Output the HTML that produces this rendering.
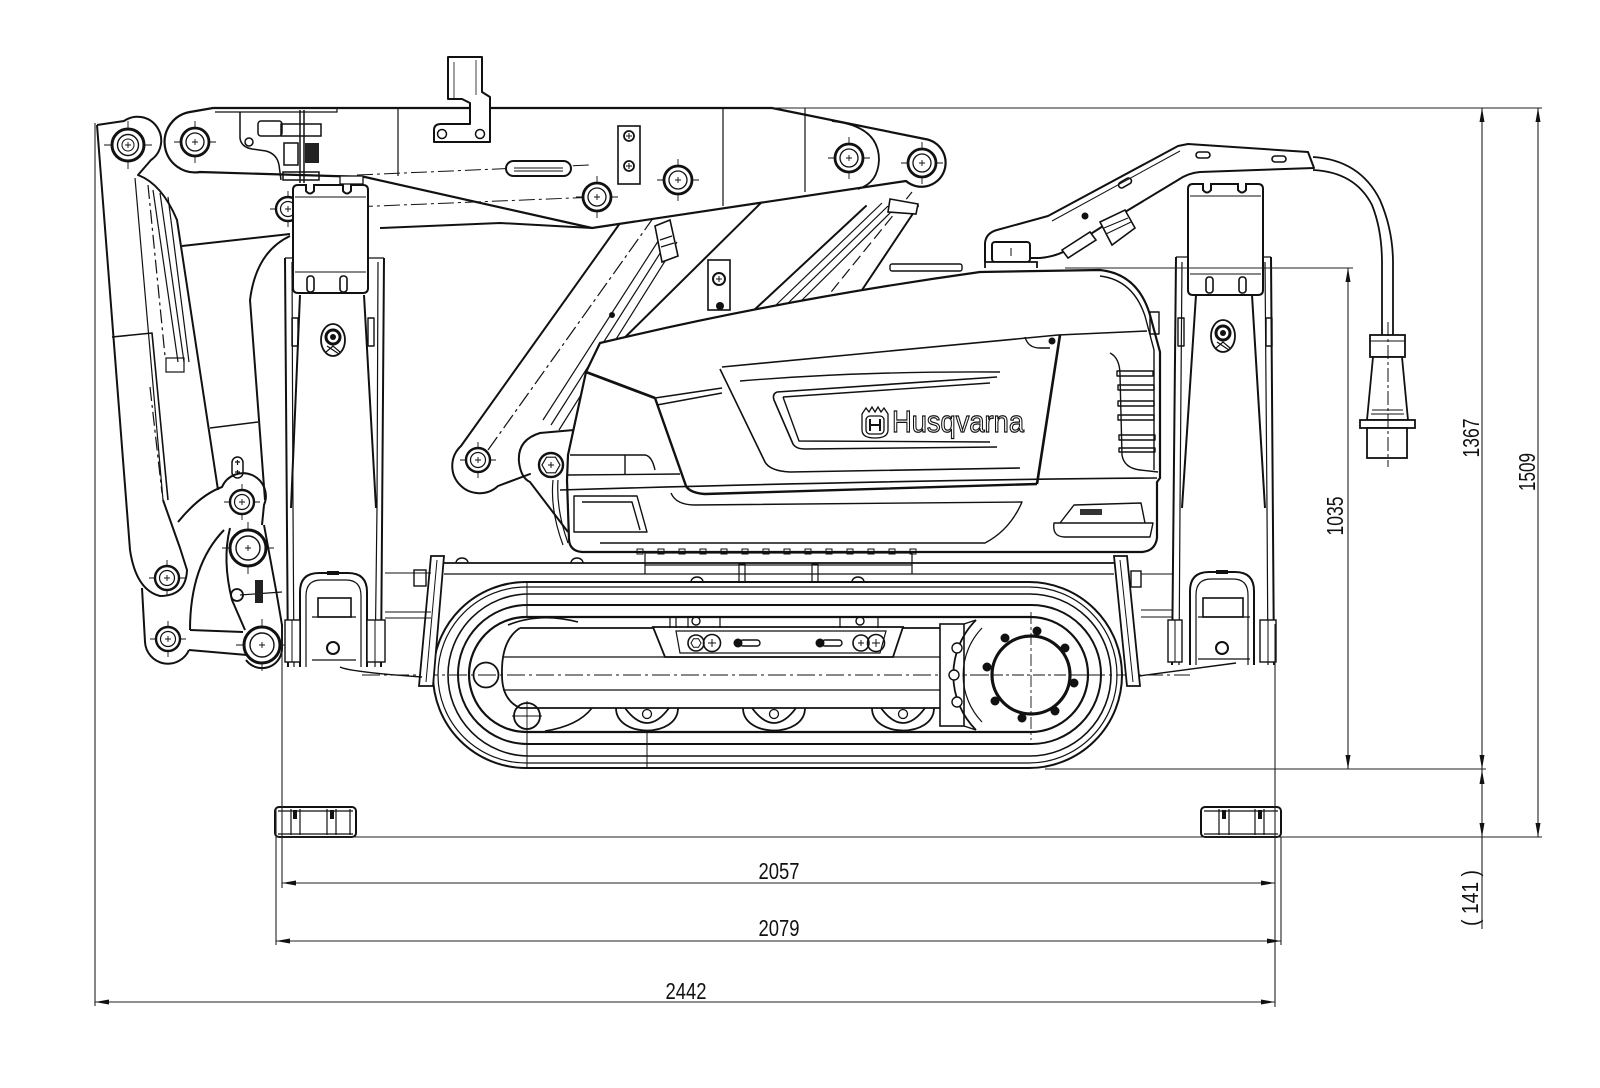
<!DOCTYPE html>
<html><head><meta charset="utf-8">
<style>html,body{margin:0;padding:0;background:#fff}svg{display:block}</style>
</head><body>
<svg xmlns="http://www.w3.org/2000/svg" xmlns:xlink="http://www.w3.org/1999/xlink" width="1600" height="1088" viewBox="0 0 1600 1088">
<defs>
 <g id="pA"><circle r="16" fill="#fff" stroke="#111" stroke-width="3"/><circle r="10.5" fill="none" stroke="#111" stroke-width="1.4"/><circle r="6" fill="none" stroke="#111" stroke-width="1"/><path d="M-3,0h6M0,-3v6M-24,0h8M16,0h8M0,-24v8M0,16v8" stroke="#111" stroke-width="0.9"/></g>
 <g id="pB"><circle r="14" fill="#fff" stroke="#111" stroke-width="2.8"/><circle r="9" fill="none" stroke="#111" stroke-width="1.3"/><path d="M-3,0h6M0,-3v6M-21,0h7M14,0h7M0,-21v7M0,14v7" stroke="#111" stroke-width="0.9"/></g>
 <g id="pC"><circle r="12" fill="#fff" stroke="#111" stroke-width="2.4"/><circle r="7.5" fill="none" stroke="#111" stroke-width="1.2"/><path d="M-3,0h6M0,-3v6M-18,0h6M12,0h6M0,-18v6M0,12v6" stroke="#111" stroke-width="0.9"/></g>
 <g id="pD"><circle r="18" fill="#fff" stroke="#111" stroke-width="3"/><circle r="12" fill="none" stroke="#111" stroke-width="1.4"/><path d="M-3,0h6M0,-3v6M-26,0h8M18,0h8M0,-26v8M0,18v8" stroke="#111" stroke-width="0.9"/></g>
 <g id="oval"><ellipse rx="12" ry="16" fill="#fff" stroke="#111" stroke-width="1.8"/><circle cy="-3" r="7" fill="none" stroke="#111" stroke-width="3"/><circle cy="-3" r="3" fill="#111"/><path d="M-7,12 L0,6 L7,12 M-6,6 L6,14" stroke="#111" stroke-width="1.2" fill="none"/></g>
</defs>
<rect width="1600" height="1088" fill="#fff"/>

<!-- ARMS (behind) -->
<g fill="none" stroke="#111" stroke-width="2" stroke-linecap="round" stroke-linejoin="round">
 <path d="M461,446 L628,212"/>
 <path d="M772,192 L600,362"/>
 <path d="M461,446 A24,24 0 0 0 498,486 L530,474"/>
 <path d="M752,312 L866,206"/>
 <path d="M862,290 L918,206"/>
</g>
<g fill="none" stroke="#111" stroke-width="1.2">
 <path d="M543,420 L664,232 M551,425 L671,236 M559,430 L677,242"/>
 <path d="M776,305 L882,203 M782,309 L888,206 M796,306 L893,210"/>
 <path d="M488,450 L676,186" stroke-dasharray="16 4 3 4"/>
 <path d="M810,318 L912,192" stroke-dasharray="12 5"/>
</g>
<polygon points="655,226 670,220 678,256 662,262" fill="#fff" stroke="#111" stroke-width="1.6"/>
<path d="M660,240 L672,236 M661,247 L674,243" stroke="#111" stroke-width="1.2"/>
<polygon points="890,199 918,204 916,214 888,212" fill="#fff" stroke="#111" stroke-width="1.6"/>
<rect x="708" y="260" width="22" height="50" fill="#fff" stroke="#111" stroke-width="1.6"/>
<circle cx="719" cy="279" r="6" fill="none" stroke="#111" stroke-width="2"/>
<path d="M716,279h6M719,276v6" stroke="#111"/>
<circle cx="720" cy="306" r="4" fill="#111"/>
<circle cx="612" cy="315" r="3" fill="#111"/>
<!-- engine mount lobe -->
<path d="M574,430 L540,433 Q517,440 519,462 Q521,478 530,482 L568,532" fill="none" stroke="#111" stroke-width="2"/>
<path d="M553,480 Q550,510 563,545 M558,480 Q556,510 568,543" fill="none" stroke="#111" stroke-width="1.2"/>
<circle cx="551" cy="465" r="12" fill="#fff" stroke="#111" stroke-width="2.4"/>
<polygon points="560,465 555.5,472.8 546.5,472.8 542,465 546.5,457.2 555.5,457.2" fill="none" stroke="#111" stroke-width="1.2"/>
<path d="M548,465h6M551,462v6" stroke="#111"/>
<use xlink:href="#pC" x="478" y="460"/>

<!-- BOOM -->
<path d="M213,108 L772,108 L925,139 A24,24 0 1,1 906,181 L592,228 L365,177 L200,172 A30,30 0 0,1 190,112 Z" fill="#fff" stroke="#111" stroke-width="2.2" stroke-linejoin="round"/>
<g fill="none" stroke="#111" stroke-width="1.2">
 <path d="M215,112 L337,112 L337,108"/>
 <path d="M398,108 L398,176 M723,108 L723,206 M805,108 L805,192"/>
 <path d="M832,121 Q879,126 879,160 Q878,183 858,189" stroke-width="1.8"/>
 <path d="M303,209 L597,197" stroke-dasharray="16 4 3 4" stroke-width="1"/>
 <path d="M357,175 L590,165" stroke-dasharray="16 4 3 4" stroke-width="1"/>
</g>
<rect x="506" y="161" width="65" height="15" rx="7.5" fill="#fff" stroke="#111" stroke-width="2"/>
<path d="M514,168 L563,168 M514,171 L563,171" stroke="#111" stroke-width="1"/>
<rect x="618" y="126" width="22" height="58" fill="#fff" stroke="#111" stroke-width="1.6"/>
<circle cx="629" cy="136" r="5" fill="none" stroke="#111" stroke-width="1.8"/>
<circle cx="629" cy="166" r="5" fill="none" stroke="#111" stroke-width="1.8"/>
<path d="M626,136h6M629,133v6M626,166h6M629,163v6" stroke="#111"/>
<use xlink:href="#pB" x="597" y="197"/>
<use xlink:href="#pB" x="678" y="180"/>
<use xlink:href="#pB" x="849" y="158"/>
<use xlink:href="#pB" x="922" y="163"/>
<!-- hook bracket -->
<path d="M448,57 L482,57 L482,92 L490,97 L490,142 L434,142 L434,130 Q434,124 441,124 L470,124 L470,103 L462,99 L448,99 Z" fill="#fff" stroke="#111" stroke-width="2" stroke-linejoin="round"/>
<circle cx="442" cy="134" r="4.5" fill="none" stroke="#111" stroke-width="1.5"/>
<circle cx="480" cy="134" r="4.5" fill="none" stroke="#111" stroke-width="1.5"/>
<path d="M454,99 L454,62 M476,60 L476,95" stroke="#111" stroke-width="0.8"/>
<!-- hydraulic block -->
<g fill="none" stroke="#111" stroke-width="1.5">
 <path d="M240,112 L240,138 Q241,147 252,149 L266,151 Q277,154 279,165 L281,180"/>
 <rect x="258" y="121" width="24" height="15" rx="3"/>
 <circle cx="249" cy="142" r="4"/>
 <rect x="281" y="124" width="40" height="12"/>
 <rect x="284" y="143" width="14" height="22"/>
 <rect x="283" y="172" width="36" height="8"/>
 <path d="M300,110 L300,183 M304,110 L304,183"/>
</g>
<rect x="305" y="143" width="14" height="20" fill="#222"/>

<!-- SECOND BOOM / BACK ARM -->
<g fill="none" stroke="#111" stroke-width="2" stroke-linejoin="round">
 <path d="M182,246 L290,234"/>
 <path d="M380,228 L500,223 L592,228"/>
 <path d="M290,236 Q256,252 250,300 L265,500"/>
 <path d="M210,428 L258,422" stroke-width="1.4"/>
</g>

<!-- COLUMN -->
<g fill="none" stroke="#111" stroke-width="2" stroke-linejoin="round">
 <path d="M97,125 L124,121 A23,23 0 0 1 151,160 L138,175 Q162,184 177,220 L218,490"/>
 <path d="M97,125 L130,550"/>
 <path d="M112,337 L152,333 L168,500" stroke-width="1.6"/>
 <path d="M130,550 Q136,590 160,596 Q186,596 187,570 L180,548 L163,500"/>
 <path d="M142,588 L145,642 A23,23 0 0 0 189,650"/>
 <path d="M189,650 L247,655 M190,630 L243,632"/>
 <path d="M190,630 Q190,565 224,530"/>
 <path d="M178,522 Q200,495 222,487 A22,22 0 0 1 264,505 L262,525"/>
 <path d="M230,528 Q222,560 232,600 L245,630"/>
 <path d="M264,525 L276,590 L282,625 L282,650 A20,20 0 0 1 246,660"/>
</g>
<g fill="none" stroke="#111" stroke-width="1.2">
 <path d="M135,178 L163,500"/>
 <path d="M153,190 L178,362 M160,193 L184,362 M168,197 L189,362"/>
 <rect x="166" y="358" width="18" height="14"/>
 <path d="M148,185 L165,356 M150,387 L162,493" stroke-dasharray="14 4 3 4"/>
 <rect x="232" y="457" width="11" height="21" rx="5.5" stroke-width="1.5"/>
 <path d="M235,462h5M237.5,460v5M235,472h5M237.5,470v5"/>
 <circle cx="237" cy="595" r="6" stroke-width="1.8"/>
 <path d="M240,595 L282,592"/>
</g>
<rect x="255" y="580" width="8" height="23" fill="#222"/>
<use xlink:href="#pA" x="128" y="145"/>
<use xlink:href="#pB" x="195" y="142"/>
<use xlink:href="#pC" x="288" y="209"/>
<use xlink:href="#pC" x="167" y="578"/>
<use xlink:href="#pC" x="168" y="639"/>
<use xlink:href="#pC" x="242" y="502"/>
<use xlink:href="#pD" x="248" y="548"/>
<use xlink:href="#pD" x="262" y="645"/>

<!-- ENGINE -->
<path d="M600,343 Q780,300 980,272 L1100,270 Q1138,274 1150,315 L1160,352 L1160,478 L1157,482 L1157,538 Q1155,552 1140,552 L582,552 Q570,551 569,540 L567,480 L568,455 L586,372 Z" fill="#fff" stroke="#111" stroke-width="2.2" stroke-linejoin="round"/>
<g fill="none" stroke="#111" stroke-width="1.4" stroke-linejoin="round">
 <path d="M1100,276 Q1133,280 1145,316 L1154,350 L1154,470"/>
 <rect x="890" y="264" width="72" height="7" rx="2"/>
 <path d="M722,367 L1058,335 L1147,331" stroke-width="1.6"/>
 <path d="M740,381 Q860,371 1000,372"/>
 <path d="M720,369 L765,462 Q770,471 790,472 L1020,468" stroke-width="1.6"/>
 <path d="M777,392 L997,377 M777,392 Q772,394 774,400 L793,444 Q796,449 805,449 L997,447" stroke-width="1.6"/>
 <path d="M783,397 L990,383 M783,397 L799,441 L990,442"/>
 <path d="M655,398 L722,388 M657,405 L722,393"/>
 <path d="M586,372 L568,455"/>
 <path d="M570,455 L645,455 Q652,456 655,470 M625,455 L625,475 M568,475 L680,474"/>
 <path d="M560,490 Q900,480 1157,478" stroke-width="1.6"/>
 <path d="M671,493 Q676,505 695,505 L1022,502 Q1010,530 985,543 L600,543"/>
 <path d="M574,496 L637,496 L647,532 L574,532 Z M582,502 L632,502 L640,530"/>
 <path d="M1054,523 Q1052,537 1065,537 L1150,537 L1153,523 Z M1060,523 L1074,505 L1141,503 L1145,523"/>
 <path d="M1110,353 Q1120,358 1120,375 L1122,455 Q1124,468 1140,470 L1158,472"/>
 <path d="M1117,371h36v5h-36z M1118,385h36v5h-36z M1118,401h36v5h-36z M1118,415h36v5h-36z M1119,435h36v5h-36z M1119,448h36v4h-36z"/>
 <rect x="1150" y="312" width="9" height="22"/>
 <path d="M1025,337 Q1028,348 1040,348 L1050,348"/>
</g>
<path d="M1060,335 L1037,484" stroke="#111" stroke-width="2.6" fill="none"/>
<path d="M655,398 L686,486 Q690,493 705,494 L1037,484" stroke="#111" stroke-width="2.4" fill="none"/>
<path d="M586,372 L655,398" stroke="#111" stroke-width="2.8" fill="none"/>
<rect x="1080" y="509" width="22" height="6" fill="#333"/>
<circle cx="1052" cy="341" r="3.5" fill="#111"/>
<!-- logo -->
<g stroke="#111" fill="#fff" stroke-width="1.3">
 <path d="M862,414 L866,408 L869,412 L872,407 L875,412 L878,407 L881,412 L884,408 L888,414 L888,430 Q888,438 875,438 Q862,438 862,430 Z"/>
 <rect x="866" y="416" width="18" height="18" rx="4"/>
 <path d="M870,419 V431 M880,419 V431 M870,425 H880" stroke-width="2" fill="none"/>
</g>
<text x="892" y="432" font-family="'Liberation Sans', sans-serif" font-size="31" textLength="132" lengthAdjust="spacingAndGlyphs" fill="#fff" stroke="#111" stroke-width="1.2">Husqvarna</text>

<!-- TOP CAP + HANDLE + CABLE -->
<rect x="992" y="242" width="38" height="20" rx="3" fill="#fff" stroke="#111" stroke-width="2"/>
<path d="M985,268 L985,262 L1037,262 L1037,268" fill="#fff" stroke="#111" stroke-width="1.8"/>
<path d="M1011,248 V256" stroke="#111"/>
<path d="M985,262 L985,243 Q986,233 997,230 L1048,216 L1178,146 L1188,144 L1308,152 L1314,168 L1200,172 Q1188,173 1178,180 L1125,212 L1075,244 Q1062,256 1040,258 L1030,258" fill="none" stroke="#111" stroke-width="2" stroke-linejoin="round"/>
<path d="M1052,221 L1180,151" stroke="#111" stroke-width="1" fill="none"/>
<rect x="1196" y="152" width="14" height="6" rx="3" fill="none" stroke="#111" stroke-width="1.6"/>
<rect x="1272" y="156" width="14" height="6" rx="3" fill="none" stroke="#111" stroke-width="1.6"/>
<rect x="1118" y="180" width="14" height="6" rx="3" fill="none" stroke="#111" stroke-width="1.6" transform="rotate(-30 1125 183)"/>
<polygon points="1062,250 1090,232 1096,240 1068,258" fill="#fff" stroke="#111" stroke-width="1.6"/>
<polygon points="1100,222 1125,210 1135,228 1112,245" fill="#fff" stroke="#111" stroke-width="1.6"/>
<path d="M1104,228 L1128,218 M1106,234 L1131,222" stroke="#111" fill="none"/>
<circle cx="1085" cy="216" r="3.5" fill="#111"/>
<path d="M1313,157 Q1360,160 1380,200 Q1393,230 1393,263 L1393,335" fill="none" stroke="#111" stroke-width="1.8"/>
<path d="M1313,170 Q1355,172 1372,205 Q1382,230 1382,263 L1382,335" fill="none" stroke="#111" stroke-width="1.8"/>
<g fill="#fff" stroke="#111" stroke-width="1.8">
 <rect x="1370" y="335" width="35" height="22"/>
 <polygon points="1373,357 1402,357 1408,420 1367,420"/>
 <rect x="1360" y="420" width="55" height="8"/>
 <rect x="1367" y="428" width="40" height="30"/>
</g>
<path d="M1370,341 H1405 M1372,410 H1403 M1371,414 H1404" stroke="#111" stroke-width="1" fill="none"/>
<path d="M1388,322 V467" stroke="#111" stroke-width="1" stroke-dasharray="14 3 3 3"/>

<!-- TRACK -->
<g fill="none" stroke="#111">
 <rect x="433" y="582" width="689" height="186" rx="93" stroke-width="2"/>
 <rect x="438" y="587" width="679" height="176" rx="88" stroke-width="1.2"/>
 <rect x="448" y="594" width="663" height="162" rx="81" stroke-width="1.6"/>
 <rect x="458" y="605" width="643" height="139" rx="69.5" stroke-width="2"/>
 <rect x="469" y="617" width="619" height="115" rx="57.5" stroke-width="2.2"/>
 <path d="M527,582 V617 M527,732 V768 M647,732 V768" stroke-width="1"/>
 <path d="M520,628 H940 M520,708 H940" stroke-width="1.8"/>
 <path d="M503,657 H940 M503,690 H940" stroke-width="1.3"/>
 <path d="M520,628 Q501,640 502,675 Q502,700 520,708" stroke-width="1.8"/>
 <path d="M508,625 Q540,612 578,622" stroke-width="1.6"/>
 <path d="M545,731 Q578,726 592,708" stroke-width="1.6"/>
 <circle cx="486" cy="675" r="12.5" stroke-width="1.8"/>
 <circle cx="527" cy="716" r="13" stroke-width="1.8"/>
 <path d="M512,716h30M527,701v30" stroke-width="0.9"/>
 <path d="M616,708 C616,738 678,738 678,708 M625,708 Q647,738 669,708" stroke-width="1.8"/>
 <path d="M743,708 C743,738 805,738 805,708 M752,708 Q774,738 796,708" stroke-width="1.8"/>
 <path d="M872,708 C872,738 934,738 934,708 M881,708 Q903,738 925,708" stroke-width="1.8"/>
 <circle cx="647" cy="714" r="4.5" stroke-width="1.3"/>
 <circle cx="774" cy="714" r="4.5" stroke-width="1.3"/>
 <circle cx="903" cy="714" r="4.5" stroke-width="1.3"/>
 <path d="M362,675 H1190" stroke-width="0.9" stroke-dasharray="18 4 3 4"/>
</g>
<!-- tension plate -->
<polygon points="653,627 903,627 893,657 665,657" fill="#fff" stroke="#111" stroke-width="1.8"/>
<path d="M676,631 L886,631 L880,653 L680,653 Z" fill="none" stroke="#111" stroke-width="1.2"/>
<circle cx="696" cy="643" r="8" fill="none" stroke="#111" stroke-width="1.6"/>
<polygon points="701,643 698.5,647.3 693.5,647.3 691,643 693.5,638.7 698.5,638.7" fill="none" stroke="#111"/>
<circle cx="712" cy="643" r="8.5" fill="none" stroke="#111" stroke-width="1.6"/>
<path d="M708,643h8M712,639v8" stroke="#111"/>
<circle cx="738" cy="643" r="4.5" fill="#111"/>
<rect x="740" y="640" width="20" height="6" rx="3" fill="none" stroke="#111" stroke-width="1.4"/>
<circle cx="820" cy="643" r="4.5" fill="#111"/>
<rect x="822" y="640" width="20" height="6" rx="3" fill="none" stroke="#111" stroke-width="1.4"/>
<circle cx="861" cy="643" r="8" fill="none" stroke="#111" stroke-width="1.6"/>
<circle cx="876" cy="643" r="8.5" fill="none" stroke="#111" stroke-width="1.6"/>
<path d="M872,643h8M876,639v8M858,643h6M861,640v6" stroke="#111"/>
<circle cx="696" cy="621" r="4" fill="none" stroke="#111" stroke-width="1.4"/>
<circle cx="860" cy="621" r="4" fill="none" stroke="#111" stroke-width="1.4"/>
<path d="M670,617 V628 M676,617 V628 M688,617 V628 M720,617 V628 M840,617 V628 M878,617 V628" stroke="#111" stroke-width="1.2"/>
<!-- sprocket -->
<rect x="940" y="624" width="24" height="102" fill="#fff" stroke="#111" stroke-width="1.6"/>
<path d="M976,620 A78,78 0 0 0 976,730" fill="none" stroke="#111" stroke-width="1.8"/>
<path d="M982,628 A68,68 0 0 0 982,722" fill="none" stroke="#111" stroke-width="1.2"/>
<path d="M964,624 L976,620 M964,726 L976,730" stroke="#111" stroke-width="1.4"/>
<circle cx="957" cy="648" r="5" fill="#fff" stroke="#111" stroke-width="1.4"/>
<circle cx="957" cy="702" r="5" fill="#fff" stroke="#111" stroke-width="1.4"/>
<circle cx="954" cy="675" r="5" fill="#fff" stroke="#111" stroke-width="1.4"/>
<circle cx="1031" cy="675" r="39" fill="#fff" stroke="#111" stroke-width="3.2"/>
<g fill="#111">
 <circle cx="1037" cy="631" r="4.5"/><circle cx="1065" cy="648" r="4.5"/><circle cx="1074" cy="683" r="4.5"/><circle cx="1055" cy="711" r="4.5"/>
 <circle cx="1022" cy="718" r="4.5"/><circle cx="995" cy="701" r="4.5"/><circle cx="987" cy="667" r="4.5"/><circle cx="1005" cy="638" r="4.5"/>
</g>
<path d="M1031,612 V740 M970,675 H1090" stroke="#111" stroke-width="0.9" stroke-dasharray="12 3 3 3"/>
<!-- chassis -->
<g fill="none" stroke="#111">
 <path d="M444,563 H1114" stroke-width="1.8"/>
 <path d="M444,574 H1114" stroke-width="1.2"/>
 <path d="M456,563 a6,5 0 0 1 12,0 M571,563 a6,5 0 0 1 12,0 M691,582 a6,5 0 0 1 12,0 M852,582 a6,5 0 0 1 12,0" stroke-width="1.4"/>
 <rect x="739" y="564" width="6" height="18" stroke-width="1.2"/>
 <rect x="812" y="564" width="6" height="18" stroke-width="1.2"/>
 <rect x="645" y="553" width="267" height="12" stroke-width="1.2"/>
 <path d="M645,565 V574 M912,565 V574" stroke-width="1.2"/>
 <path d="M637,549h6v5h-6z M658,549h6v5h-6z M679,549h6v5h-6z M700,549h6v5h-6z M721,549h6v5h-6z M742,549h6v5h-6z M763,549h6v5h-6z M784,549h6v5h-6z M805,549h6v5h-6z M826,549h6v5h-6z M847,549h6v5h-6z M868,549h6v5h-6z M889,549h6v5h-6z M910,549h6v5h-6z" stroke-width="1"/>
</g>
<polygon points="431,556 444,556 433,686 419,686" fill="#fff" stroke="#111" stroke-width="1.8"/>
<path d="M437,560 L426,682" stroke="#111" stroke-width="1"/>
<rect x="414" y="570" width="12" height="16" fill="#fff" stroke="#111" stroke-width="1.4"/>
<polygon points="1114,556 1127,556 1140,686 1127,686" fill="#fff" stroke="#111" stroke-width="1.8"/>
<path d="M1120,560 L1133,682" stroke="#111" stroke-width="1"/>
<rect x="1131" y="571" width="10" height="16" fill="#fff" stroke="#111" stroke-width="1.4"/>

<!-- LEFT LEG -->
<polygon points="285,258 385,258 385,667 285,667" fill="#fff"/>
<g fill="none" stroke="#111" stroke-linejoin="round">
 <path d="M285,258 L288,667 M300,295 L291,508 M384,258 L381,667 M364,295 L376,508" stroke-width="2"/>
 <path d="M292,262 L293,508 L294,667 M378,262 L377,508 L375,667 M285,258 L300,258 M368,258 L384,258" stroke-width="1.2"/>
 <rect x="292" y="318" width="6" height="28" stroke-width="1.4"/>
 <rect x="368" y="318" width="6" height="28" stroke-width="1.4"/>
</g>
<use xlink:href="#oval" x="333" y="340"/>
<path d="M293,190 Q293,185 298,185 L306,185 L306,191 Q310,196 314,191 L314,185 L343,185 L343,191 Q347,196 351,191 L351,185 L363,185 Q368,185 368,190 L368,288 Q368,293 363,293 L298,293 Q293,293 293,288 Z" fill="#fff" stroke="#111" stroke-width="2"/>
<path d="M295,197 L366,197 M295,272 L366,272" stroke="#111" stroke-width="1.1"/>
<rect x="307" y="276" width="7" height="16" rx="3" fill="none" stroke="#111" stroke-width="1.6"/>
<rect x="340" y="276" width="7" height="16" rx="3" fill="none" stroke="#111" stroke-width="1.6"/>
<rect x="340" y="176" width="23" height="8" fill="#fff" stroke="#111" stroke-width="1.3"/>
<!-- left foot -->
<path d="M300,667 L300,592 Q300,573 319,573 L348,573 Q367,573 367,592 L367,667" fill="#fff" stroke="#111" stroke-width="2"/>
<path d="M306,667 L306,596 Q306,580 321,580 L346,580 Q361,580 361,596 L361,667" fill="none" stroke="#111" stroke-width="1.2"/>
<rect x="318" y="598" width="33" height="19" fill="#fff" stroke="#111" stroke-width="1.6"/>
<path d="M312,617 L356,617 M312,660 L356,660" stroke="#111" stroke-width="1.2"/>
<circle cx="333" cy="648" r="6" fill="#fff" stroke="#111" stroke-width="2"/>
<rect x="327" y="571" width="12" height="4" fill="#111"/>
<rect x="285" y="620" width="15" height="42" fill="#fff" stroke="#111" stroke-width="1.4"/>
<rect x="367" y="620" width="18" height="42" fill="#fff" stroke="#111" stroke-width="1.4"/>
<path d="M292,620 V662 M375,620 V662" stroke="#111" stroke-width="1"/>
<path d="M340,667 Q350,672 422,677" fill="none" stroke="#111" stroke-width="1.4"/>
<path d="M385,573 L431,573 M385,612 L431,612 M385,618 L431,618" stroke="#111" stroke-width="1.1"/>

<!-- RIGHT LEG -->
<polygon points="1172,257 1274,257 1274,665 1172,665" fill="#fff"/>
<g fill="none" stroke="#111" stroke-linejoin="round">
 <path d="M1176,257 L1172,665 M1196,295 L1182,508 M1271,257 L1274,665 M1252,295 L1265,508" stroke-width="2"/>
 <path d="M1182,262 L1180,508 L1179,665 M1265,262 L1267,508 L1268,665 M1176,257 L1192,257 M1258,257 L1271,257" stroke-width="1.2"/>
 <rect x="1178" y="318" width="6" height="28" stroke-width="1.4"/>
 <rect x="1266" y="318" width="6" height="28" stroke-width="1.4"/>
</g>
<use xlink:href="#oval" x="1223" y="336"/>
<path d="M1188,189 Q1188,184 1193,184 L1203,184 L1203,190 Q1207,195 1211,190 L1211,184 L1238,184 L1238,190 Q1242,195 1246,190 L1246,184 L1258,184 Q1263,184 1263,189 L1263,290 Q1263,295 1258,295 L1193,295 Q1188,295 1188,290 Z" fill="#fff" stroke="#111" stroke-width="2"/>
<path d="M1190,196 L1261,196 M1190,274 L1261,274" stroke="#111" stroke-width="1.1"/>
<rect x="1206" y="277" width="7" height="16" rx="3" fill="none" stroke="#111" stroke-width="1.6"/>
<rect x="1239" y="277" width="7" height="16" rx="3" fill="none" stroke="#111" stroke-width="1.6"/>
<!-- right foot -->
<path d="M1190,665 L1190,591 Q1190,572 1209,572 L1235,572 Q1254,572 1254,591 L1254,665" fill="#fff" stroke="#111" stroke-width="2"/>
<path d="M1196,665 L1196,595 Q1196,579 1211,579 L1233,579 Q1248,579 1248,595 L1248,665" fill="none" stroke="#111" stroke-width="1.2"/>
<rect x="1203" y="598" width="40" height="19" fill="#fff" stroke="#111" stroke-width="1.6"/>
<path d="M1198,617 L1250,617 M1198,659 L1250,659" stroke="#111" stroke-width="1.2"/>
<circle cx="1222" cy="648" r="6" fill="#fff" stroke="#111" stroke-width="2"/>
<rect x="1216" y="570" width="12" height="4" fill="#111"/>
<rect x="1168" y="620" width="14" height="42" fill="#fff" stroke="#111" stroke-width="1.4"/>
<rect x="1260" y="620" width="16" height="42" fill="#fff" stroke="#111" stroke-width="1.4"/>
<path d="M1175,620 V662 M1268,620 V662" stroke="#111" stroke-width="1"/>
<path d="M1139,676 L1236,663" fill="none" stroke="#111" stroke-width="1.4"/>
<path d="M1141,574 L1172,574 M1141,610 L1172,610 M1141,617 L1172,617" stroke="#111" stroke-width="1.1"/>

<!-- PADS -->
<g fill="#fff" stroke="#111" stroke-width="2">
 <rect x="275" y="807" width="81" height="30" rx="4"/>
 <rect x="1201" y="807" width="80" height="30" rx="4"/>
</g>
<g fill="none" stroke="#111" stroke-width="1.2">
 <path d="M278,811 H353 M278,834 H353 M291,809 V835 M300,809 V835 M327,809 V835 M336,809 V835 M350,809 V835"/>
 <path d="M1204,811 H1278 M1204,834 H1278 M1219,809 V835 M1229,809 V835 M1255,809 V835 M1264,809 V835"/>
</g>
<g fill="#111">
 <rect x="293" y="810" width="4" height="9"/><rect x="330" y="810" width="4" height="9"/>
 <rect x="1222" y="810" width="4" height="9"/><rect x="1258" y="810" width="4" height="9"/>
</g>

<!-- DIMENSIONS -->
<g fill="none" stroke="#222" stroke-width="1.1">
 <path d="M772,108 H1542"/>
 <path d="M1538,108 V837"/>
 <path d="M1482,108 V929"/>
 <path d="M1348,268 V769"/>
 <path d="M1065,268 H1353"/>
 <path d="M1045,769 H1486"/>
 <path d="M276,837 H1542"/>
 <path d="M282,883 H1275 M276,941 H1281 M95,1002 H1275"/>
 <path d="M95,123 V1006 M282,627 V888 M1275,624 V1007 M276,808 V945 M1281,837 V945"/>
</g>
<g fill="#111">
 <polygon points="1538,108 1535.5,122 1540.5,122"/>
 <polygon points="1538,837 1535.5,823 1540.5,823"/>
 <polygon points="1482,108 1479.5,122 1484.5,122"/>
 <polygon points="1482,769 1479.5,755 1484.5,755"/>
 <polygon points="1482,770 1479.5,784 1484.5,784"/>
 <polygon points="1482,837 1479.5,823 1484.5,823"/>
 <polygon points="1348,268 1345.5,282 1350.5,282"/>
 <polygon points="1348,769 1345.5,755 1350.5,755"/>
 <polygon points="282,883 296,880.5 296,885.5"/>
 <polygon points="1275,883 1261,880.5 1261,885.5"/>
 <polygon points="276,941 290,938.5 290,943.5"/>
 <polygon points="1281,941 1267,938.5 1267,943.5"/>
 <polygon points="95,1002 109,999.5 109,1004.5"/>
 <polygon points="1275,1002 1261,999.5 1261,1004.5"/>
</g>
<g font-family="'Liberation Sans', sans-serif" font-size="23" fill="#111" text-anchor="middle">
 <text x="779" y="879" textLength="41" lengthAdjust="spacingAndGlyphs">2057</text>
 <text x="779" y="936" textLength="41" lengthAdjust="spacingAndGlyphs">2079</text>
 <text x="686" y="999" textLength="41" lengthAdjust="spacingAndGlyphs">2442</text>
 <text transform="translate(1479,438) rotate(-90)" textLength="39" lengthAdjust="spacingAndGlyphs">1367</text>
 <text transform="translate(1535,472) rotate(-90)" textLength="38" lengthAdjust="spacingAndGlyphs">1509</text>
 <text transform="translate(1343,516) rotate(-90)" textLength="39" lengthAdjust="spacingAndGlyphs">1035</text>
 <text transform="translate(1478,898) rotate(-90)" textLength="56" lengthAdjust="spacingAndGlyphs">( 141 )</text>
</g>
</svg>
</body></html>
